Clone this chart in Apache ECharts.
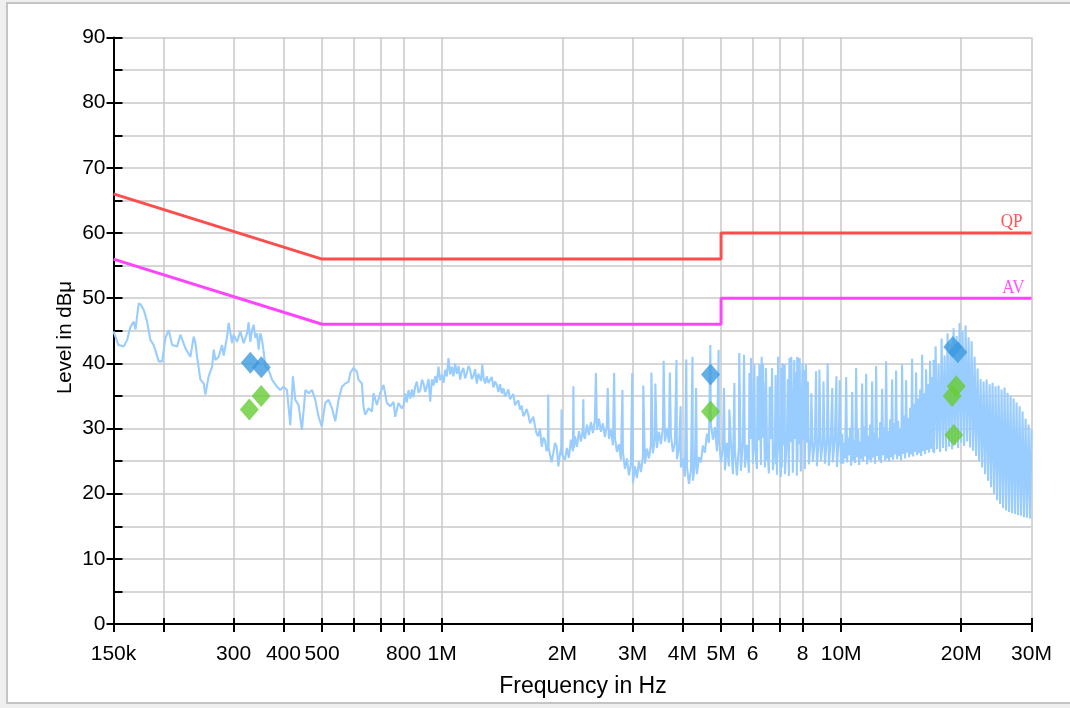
<!DOCTYPE html>
<html><head><meta charset="utf-8">
<script src="https://cdn.jsdelivr.net/npm/echarts@6.0.0/dist/echarts.min.js"></script>
<style>
html,body{margin:0;padding:0;background:#efefef;width:1070px;height:708px;overflow:hidden;}
#frame{position:absolute;left:6px;top:2px;width:1080px;height:702px;box-sizing:border-box;border:2px solid #c4c4c4;background:#fff;}
#chart{position:absolute;left:0;top:0;width:1070px;height:708px;}
</style></head><body>
<div id="frame"></div><div id="chart"></div>
<script>
// ---------- axis ticks / labels ----------
const xTickVals  = [0.15,0.2,0.3,0.4,0.5,0.6,0.7,0.8,1,2,3,4,5,6,7,8,10,20,30]; // MHz
const xLabelVals = [0.15,0.3,0.4,0.5,0.8,1,2,3,4,5,6,8,10,20,30];
const xLabelText = ['150k','300','400','500','800','1M','2M','3M','4M','5M','6','8','10M','20M','30M'];

// ---------- limit lines ----------
const limitFreq = [0.15,0.5,5,5,30];
const qpLimit   = [66,56,56,60,60];
const avLimit   = [56,46,46,50,50];

// ---------- final measurement markers [MHz, dBuV] ----------
const qpMarkers = [[0.3304,40.1],[0.352,39.4],[4.705,38.3],[19.05,42.5],[19.61,41.7]];
const avMarkers = [[0.3285,32.9],[0.3517,35.0],[4.705,32.6],[19.43,36.5],[18.98,35.0],[19.16,29.0]];

// ---------- spectrum trace segments [MHz, dBuV] ----------
const traceA = [[0.150,44.9],[0.1544,42.8],[0.1592,42.6],[0.1623,43.6],[0.1654,45.6],[0.1686,46.4],[0.1703,45.2],[0.1735,49.2],[0.1757,49.0],[0.1786,48.2],[0.1821,46.4],[0.1856,43.6],[0.1892,42.8],[0.1948,40.3],[0.1986,40.3],[0.2024,43.9],[0.2063,45.1],[0.2104,42.8],[0.2166,42.6],[0.2207,44.4],[0.2229,44.6],[0.2272,42.3],[0.2338,41.0],[0.2383,44.1],[0.2407,43.1],[0.2430,41.0],[0.2477,37.5],[0.2525,36.9],[0.2549,35.2],[0.2598,38.0],[0.2650,39.5],[0.2675,42.1],[0.2701,40.5],[0.2753,41.0],[0.2807,42.8],[0.2833,41.2],[0.2890,44.1],[0.2916,46.2],[0.2974,43.1],[0.2999,44.4],[0.3061,43.3],[0.3119,44.9],[0.3179,43.1],[0.3242,44.6],[0.3272,46.3],[0.3304,43.3],[0.3337,45.1],[0.3368,45.9],[0.3401,43.9],[0.3435,44.6],[0.3466,42.1],[0.3501,44.6],[0.3535,43.6],[0.3568,41.8],[0.3603,39.5],[0.3672,39.0],[0.3745,37.5],[0.3855,36.4],[0.3928,35.9],[0.4000,36.4],[0.4083,35.9],[0.4161,30.5],[0.4225,38.0],[0.4283,34.4],[0.4365,33.6],[0.4450,29.8],[0.4540,35.9],[0.4630,35.4],[0.4720,35.9],[0.4807,34.4],[0.4899,31.8],[0.4990,30.3],[0.5090,33.9],[0.5190,34.4],[0.5294,33.1],[0.5395,31.1],[0.5498,34.4],[0.5605,36.4],[0.5715,36.9],[0.5825,37.2],[0.5881,38.5],[0.5994,39.3],[0.6112,38.7],[0.6169,37.5],[0.6289,36.9],[0.6349,33.4],[0.6413,32.1],[0.6537,33.1],[0.6667,32.6],[0.6728,35.4],[0.6860,33.6],[0.6993,35.4],[0.7128,36.7],[0.7268,33.9],[0.7409,33.4],[0.7550,34.1],[0.7624,31.8],[0.7768,33.9],[0.7925,33.1],
[0.800,33.5],[0.808,35.4],[0.815,34.0],[0.823,35.9],[0.832,34.6],[0.840,36.0],[0.847,34.8],[0.856,36.5],[0.864,37.2],[0.872,35.5],[0.881,35.9],[0.890,37.5],[0.898,36.9],[0.907,35.6],[0.915,36.4],[0.924,37.6],[0.933,34.1],[0.942,37.5],[0.951,36.6],[0.960,38.0],[0.969,37.0],[0.979,39.5],[0.988,37.4],[0.998,38.2],[1.008,37.0],[1.017,39.0],[1.027,38.0],[1.037,40.8],[1.047,38.3],[1.057,39.5],[1.067,38.0],[1.077,40.0],[1.088,38.4],[1.099,39.6],[1.109,37.5],[1.120,38.8],[1.130,39.3],[1.141,37.7],[1.153,38.5],[1.164,39.6],[1.175,39.0],[1.186,37.6],[1.197,38.0],[1.209,39.1],[1.221,36.9],[1.232,38.4],[1.244,38.7],[1.252,37.3],[1.260,39.8],[1.270,37.8],[1.281,36.9],[1.293,38.0],[1.306,37.0],[1.318,36.7],[1.331,37.9],[1.344,36.3],[1.357,37.2],[1.370,36.7],[1.383,35.6],[1.396,36.8],[1.410,35.4],[1.424,36.2],[1.437,34.9],[1.451,35.4],[1.465,36.0],[1.479,34.5],[1.494,34.6],[1.508,35.3],[1.522,33.6],[1.537,33.9],[1.552,34.3],[1.567,32.9],[1.582,33.5],[1.597,31.9],[1.612,32.3],[1.628,33.0],[1.644,32.1],[1.660,30.8],[1.675,31.1],[1.692,31.8],[1.709,30.3],[1.725,29.2],[1.741,28.8],[1.758,30.0],[1.776,27.2],[1.793,28.6],[1.810,28.2],[1.827,26.5],[1.840,27.5],[1.844,35.2],[1.849,27.0],[1.862,27.2],[1.880,24.8],[1.899,26.2],[1.917,27.8],[1.936,27.2],[1.955,24.2],[1.974,26.2],[1.988,27.0],[1.992,32.9],[1.997,26.0],[2.011,26.2]];

const traceB = [[2.030,25.2],[2.054,27.0],[2.078,25.5],[2.102,28.3],[2.127,26.5],[2.132,36.5],[2.138,27.0],[2.151,28.8],[2.176,27.2],[2.202,29.6],[2.227,28.0],[2.253,30.1],[2.258,34.5],[2.264,29.0],[2.279,28.4],[2.306,30.6],[2.332,29.0],[2.359,31.0],[2.387,29.3],[2.414,31.4],[2.428,38.5],[2.442,29.8],[2.471,31.5],[2.499,29.5],[2.528,30.8],[2.558,28.7],[2.587,30.5],[2.600,36.2],[2.617,28.4],[2.648,29.8],[2.679,27.4],[2.697,38.5],[2.710,28.6],[2.741,26.4],[2.773,27.6],[2.805,25.2],[2.830,35.9],[2.838,26.4],[2.871,23.8],[2.904,25.4],[2.938,22.8],[2.972,24.6],[2.995,38.5],[3.007,21.6],[3.042,24.2],[3.077,22.4],[3.113,25.0],[3.149,23.3],[3.185,25.8],[3.192,36.6],[3.222,24.6],[3.260,26.9],[3.298,25.4],[3.336,27.6],[3.345,38.6],[3.374,26.2],[3.414,28.6],[3.422,36.9],[3.453,27.0],[3.493,29.5],[3.534,27.6],[3.575,30.2],[3.590,40.4],[3.616,28.0],[3.658,30.0],[3.701,27.8],[3.720,38.6],[3.744,28.9],[3.787,26.4],[3.831,27.8],[3.866,40.5],[3.876,25.3],[3.921,26.8],[3.960,33.4],[3.966,24.0],[4.012,25.4],[4.059,22.6],[4.090,40.6],[4.106,24.2],[4.154,21.5],[4.202,23.6],[4.240,41.0],[4.251,22.0],[4.300,24.4],[4.330,36.2],[4.350,23.0],[4.400,25.6],[4.451,24.8],[4.503,27.4],[4.555,26.3],[4.608,29.2],[4.662,27.8],[4.700,42.8],[4.716,30.6],[4.771,28.3],[4.826,30.2],[4.882,26.5],[4.930,42.1],[4.939,28.2],[4.996,24.8]];

const traceC = [[5.054,27.0],[5.085,36.2],[5.113,23.6],[5.172,27.8],[5.232,24.2],[5.245,32.9],[5.293,28.0],[5.354,23.0],[5.400,37.0],[5.416,26.6],[5.479,22.8],[5.543,27.3],[5.553,41.6],[5.607,23.5],[5.672,28.1],[5.710,41.3],[5.738,24.0],[5.805,27.5],[5.872,23.2],[5.890,38.5],[5.940,28.4],[5.945,40.8],[6.009,24.6],[6.060,39.8],[6.079,27.6],[6.150,23.8],[6.170,38.0],[6.221,28.2],[6.240,39.8],[6.293,24.4],[6.320,41.0],[6.366,28.6],[6.370,40.0],[6.440,24.0],[6.470,37.0],[6.475,25.0],[6.480,39.3],[6.515,27.9],[6.590,23.1],[6.620,36.4],[6.667,28.4],[6.710,39.3],[6.744,23.6],[6.822,27.7],[6.850,38.2],[6.870,24.5],[6.890,35.9],[6.902,22.9],[6.950,41.0],[6.982,28.0],[7.063,22.6],[7.080,39.3],[7.100,24.0],[7.130,40.0],[7.145,27.4],[7.220,39.8],[7.228,23.0],[7.312,28.3],[7.350,37.6],[7.396,22.7],[7.420,40.8],[7.482,27.9],[7.500,41.0],[7.569,23.2],[7.630,40.5],[7.657,28.4],[7.700,38.6],[7.746,22.8],[7.760,41.0],[7.775,25.0],[7.790,40.8],[7.836,27.6],[7.870,40.8],[7.926,23.4],[8.000,40.0],[8.018,28.2],[8.090,39.0],[8.111,23.8],[8.160,39.8],[8.206,27.8],[8.250,37.2],[8.301,24.5],[8.397,28.4],[8.420,35.4],[8.494,24.9],[8.593,28.1],[8.650,38.8],[8.693,24.2],[8.794,28.6],[8.820,39.0],[8.896,25.0],[8.999,28.2],[9.030,37.2],[9.103,24.6],[9.209,28.4],[9.250,40.0],[9.316,24.3],[9.424,28.6],[9.500,36.2],[9.533,24.8],[9.644,28.8],[9.730,38.0],[9.756,24.1],[9.869,28.5],[9.920,37.4],[9.983,24.6]];

const traceD = [[10.000,25.0],[10.058,29.2],[10.116,24.6],[10.174,27.8],[10.233,25.4],[10.292,37.9],[10.352,24.8],[10.412,28.6],[10.472,25.9],[10.533,30.1],[10.594,24.3],[10.655,35.6],[10.717,25.1],[10.779,28.2],[10.841,24.7],[10.904,39.3],[10.967,25.6],[11.030,29.8],[11.094,24.4],[11.158,28.0],[11.223,25.3],[11.288,36.9],[11.353,24.9],[11.419,30.3],[11.485,25.7],[11.551,38.4],[11.618,24.5],[11.685,28.9],[11.753,25.2],[11.821,30.6],[11.889,24.8],[11.958,37.2],[12.027,25.5],[12.097,29.4],[12.167,24.6],[12.237,39.6],[12.308,25.8],[12.379,28.5],[12.451,25.1],[12.523,31.0],[12.595,24.7],[12.668,36.1],[12.741,25.9],[12.815,30.2],[12.889,25.0],[12.964,40.3],[13.039,25.4],[13.114,29.6],[13.190,24.9],[13.266,31.4],[13.343,25.6],[13.420,37.5],[13.498,25.2],[13.576,30.8],[13.654,26.0],[13.733,38.9],[13.813,25.3],[13.893,31.2],[13.973,25.8],[14.054,29.9],[14.135,25.1],[14.217,39.8],[14.299,26.1],[14.382,32.0],[14.465,25.4],[14.549,37.4],[14.633,26.3],[14.718,31.6],[14.803,25.6],[14.888,33.2],[14.974,26.0],[15.061,40.7],[15.148,25.7],[15.236,33.8],[15.324,26.4],[15.413,38.6],[15.502,25.9],[15.592,34.6],[15.682,26.2],[15.773,36.0],[15.864,25.8],[15.956,41.3],[16.048,26.5],[16.141,35.4],[16.234,26.1],[16.328,39.1],[16.423,26.7],[16.518,36.8],[16.613,26.3],[16.710,40.4],[16.806,26.9],[16.903,37.9],[17.001,26.4],[17.050,40.5],
[17.101,26.2],[17.249,42.6],[17.399,26.8],[17.550,39.8],[17.703,26.4],[17.857,43.8],[18.012,27.0],[18.169,41.2],[18.327,26.5],[18.486,44.6],[18.646,27.2],[18.809,43.0],[18.972,26.8],[19.137,45.4],[19.303,27.5],[19.471,44.2],[19.640,27.0],[19.811,46.2],[19.983,27.8],[20.157,45.0],[20.332,27.3],[20.509,45.8],[20.687,28.0],[20.867,44.0],[21.048,27.1],[21.231,43.4],[21.416,26.6],[21.602,41.0],[21.790,25.8],[21.979,39.2],[22.170,25.0],[22.363,37.6],[22.557,24.0],[22.753,37.2],[22.951,23.0],[23.151,37.5],[23.352,22.0],[23.555,36.8],[23.760,21.0],[23.966,37.0],[24.174,20.0],[24.384,36.5],[24.596,19.0],[24.810,36.6],[25.026,18.4],[25.243,36.0],[25.463,17.8],[25.684,36.3],[25.907,17.4],[26.133,35.5],[26.360,17.2],[26.589,35.0],[26.820,17.0],[27.053,34.6],[27.288,16.9],[27.525,34.0],[27.765,16.7],[28.006,33.4],[28.249,16.6],[28.495,32.6],[28.742,16.4],[28.992,31.5],[29.244,16.3],[29.498,30.6],[29.755,16.2],[30.000,29.8]];

// ---------- chart ----------
const FONT = '"Liberation Sans", Arial, Helvetica, sans-serif';
const chart = echarts.init(document.getElementById('chart'), null, {renderer:'canvas', width:1070, height:708});

function fmtX(v){
  let best = -1, bd = 1e9;
  xLabelVals.forEach((t,i)=>{ const d = Math.abs(Math.log(v/t)); if (d < bd){ bd = d; best = i; } });
  return bd < 0.01 ? xLabelText[best] : '';
}
const axisBlack = {color:'#000', width:2};
const xBase = {type:'log', logBase:10, min:0.15, max:30, gridIndex:0, position:'bottom'};

const option = {
  animation:false,
  backgroundColor:'transparent',
  grid:{left:113.5, top:37.5, width:918, height:586.5, containLabel:false},
  xAxis:[
    Object.assign({}, xBase, {
      axisLine:{show:true, onZero:false, lineStyle:axisBlack},
      axisTick:{show:true, inside:false, length:8, customValues:xTickVals, lineStyle:axisBlack},
      axisLabel:{show:true, customValues:xLabelVals, formatter:fmtX, margin:20, color:'#000', fontSize:21, fontFamily:FONT, hideOverlap:false},
      splitLine:{show:true, lineStyle:{color:'#c8c8c8', width:1.5}},
      minorTick:{show:false}, minorSplitLine:{show:false}
    }),
    Object.assign({}, xBase, {
      axisLine:{show:false},
      axisTick:{show:true, inside:true, length:6, customValues:xTickVals, lineStyle:axisBlack},
      axisLabel:{show:false},
      splitLine:{show:false}
    })
  ],
  yAxis:[
    {type:'value', gridIndex:0, position:'left', min:0, max:90, interval:5,
     axisLine:{show:true, onZero:false, lineStyle:axisBlack},
     axisTick:{show:true, inside:true, length:9, lineStyle:axisBlack},
     axisLabel:{show:true, formatter:(v)=> (v % 10 === 0 ? String(v) : ''), margin:8, color:'#000', fontSize:21, fontFamily:FONT, padding:[6,0,0,0]},
     splitLine:{show:true, lineStyle:{color:'#c8c8c8', width:1.5}}},
    {type:'value', gridIndex:0, position:'left', min:0, max:90, interval:10,
     axisLine:{show:false},
     axisTick:{show:true, inside:false, length:7, lineStyle:axisBlack},
     axisLabel:{show:false}, splitLine:{show:false}}
  ],
  series:[
    {name:'Trace', type:'line', xAxisIndex:0, yAxisIndex:0, showSymbol:false, silent:true, z:2,
     lineStyle:{color:'#99ccff', width:2.1}, data: traceA.concat(traceB, traceC, traceD)},
    {name:'QP', type:'line', xAxisIndex:0, yAxisIndex:0, showSymbol:false, silent:true, z:3,
     lineStyle:{color:'#ff4d4d', width:3}, data: limitFreq.map((f,i)=>[f, qpLimit[i]])},
    {name:'AV', type:'line', xAxisIndex:0, yAxisIndex:0, showSymbol:false, silent:true, z:3,
     lineStyle:{color:'#ff44ff', width:3}, data: limitFreq.map((f,i)=>[f, avLimit[i]])},
    {name:'QP final', type:'scatter', xAxisIndex:0, yAxisIndex:0, silent:true, z:5,
     symbol:'diamond', symbolSize:[19,22], itemStyle:{color:'#3d9ae0'}, data: qpMarkers},
    {name:'AV final', type:'scatter', xAxisIndex:0, yAxisIndex:0, silent:true, z:5,
     symbol:'diamond', symbolSize:[19,22], itemStyle:{color:'#66cc33'}, data: avMarkers}
  ]
};
chart.setOption(option);

const pQP = chart.convertToPixel({seriesIndex:1}, [30, 60]);
const pAV = chart.convertToPixel({seriesIndex:2}, [30, 50]);
chart.setOption({
  graphic:[
    {type:'text', x:583, y:687, silent:true,
     style:{text:'Frequency in Hz', fontSize:23, fontFamily:FONT, fill:'#000', align:'center', verticalAlign:'middle', textAlign:'center', textVerticalAlign:'middle'}},
    {type:'text', x:65, y:337.5, rotation:Math.PI/2, silent:true,
     style:{text:'Level in dBμ', fontSize:20.5, fontFamily:FONT, fill:'#000', align:'center', verticalAlign:'middle', textAlign:'center', textVerticalAlign:'middle'}},
    {type:'text', x:pQP[0]-9, y:pQP[1]-1, scaleY:1.15, silent:true,
     style:{text:'QP', fontSize:17, fontFamily:'"Liberation Serif", "DejaVu Serif", serif', fill:'#ff5555', align:'right', verticalAlign:'bottom', textAlign:'right', textVerticalAlign:'bottom'}},
    {type:'text', x:pAV[0]-7, y:pAV[1]-0.5, scaleY:1.15, silent:true,
     style:{text:'AV', fontSize:17, fontFamily:'"Liberation Serif", "DejaVu Serif", serif', fill:'#ff55ff', align:'right', verticalAlign:'bottom', textAlign:'right', textVerticalAlign:'bottom'}}
  ]
});
</script></body></html>
